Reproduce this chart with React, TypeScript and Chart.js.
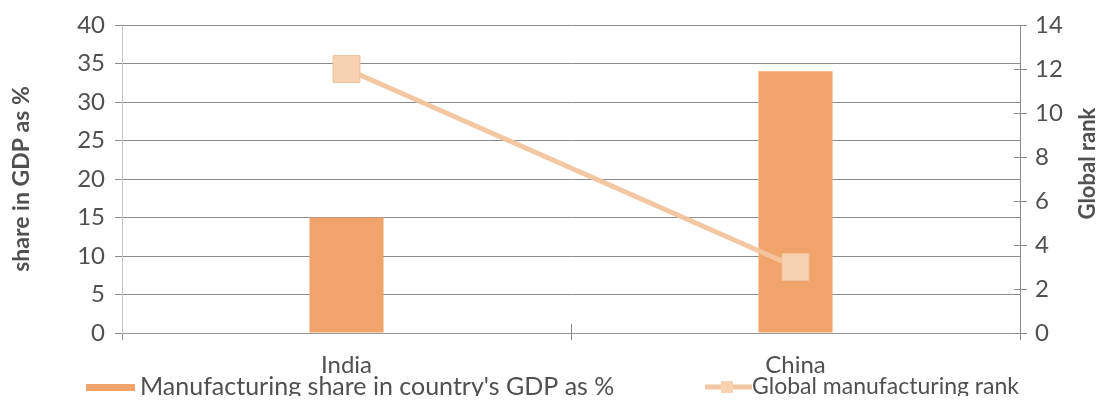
import React, { useEffect, useRef } from "react";
import { Chart, registerables } from "chart.js";

Chart.register(...registerables);

const categories = ["India", "China"];
const manufacturingShare = [15, 34];
const globalRank = [12, 3];
const shareLabel = "Manufacturing share in country's GDP as %";
const rankLabel = "Global manufacturing rank";
const leftTitle = "share in GDP as %";
const rightTitle = "Global rank";

const BAR_COLOR = "#F0A46C";
const LINE_COLOR = "rgba(243,196,158,0.95)";
const POINT_COLOR = "#F8D3B2";
const TEXT = "#505050";
const FONT = "Lato";

const decorPlugin = {
  id: "decor",
  afterDraw(chart: any) {
    const ctx = chart.ctx;
    const area = chart.chartArea;
    const y1 = chart.scales.y1;
    const x = chart.scales.x;
    ctx.save();
    ctx.strokeStyle = "#8c8c8c";
    ctx.lineWidth = 1;
    y1.ticks.forEach((t: any) => {
      const yy = Math.round(y1.getPixelForValue(t.value)) + 0.5;
      ctx.beginPath();
      ctx.moveTo(area.right - 6, yy);
      ctx.lineTo(area.right + 7, yy);
      ctx.stroke();
    });
    const midX = Math.round((x.getPixelForValue(0) + x.getPixelForValue(1)) / 2) + 0.5;
    ctx.beginPath();
    ctx.moveTo(midX, area.bottom - 9);
    ctx.lineTo(midX, area.bottom + 7);
    ctx.stroke();

    // right axis title
    ctx.save();
    ctx.translate(area.right + 68, area.top + (area.bottom - area.top) * 0.45);
    ctx.rotate(-Math.PI / 2);
    ctx.textAlign = "center";
    ctx.textBaseline = "middle";
    ctx.fillStyle = TEXT;
    ctx.font = `bold 22px ${FONT}`;
    ctx.fillText(rightTitle, 0, 0);
    ctx.restore();

    const ly = area.bottom + 54;
    ctx.textBaseline = "middle";
    ctx.textAlign = "left";
    ctx.fillStyle = BAR_COLOR;
    ctx.fillRect(78, ly - 3, 49, 7);
    ctx.fillStyle = TEXT;
    ctx.font = `25px ${FONT}`;
    ctx.fillText(shareLabel, 132, ly);

    ctx.strokeStyle = LINE_COLOR;
    ctx.lineWidth = 5;
    ctx.beginPath();
    ctx.moveTo(697, ly);
    ctx.lineTo(744, ly);
    ctx.stroke();
    ctx.fillStyle = POINT_COLOR;
    ctx.fillRect(713, ly - 6, 12, 12);
    ctx.fillStyle = TEXT;
    ctx.font = `23px ${FONT}`;
    ctx.fillText(rankLabel, 744, ly);
    ctx.restore();
  },
};

export default function App() {
  const ref = useRef<HTMLCanvasElement | null>(null);
  useEffect(() => {
    if (!ref.current) return;
    const chart = new Chart(ref.current, {
      type: "bar",
      data: {
        labels: categories,
        datasets: [
          {
            type: "line",
            label: rankLabel,
            data: globalRank,
            yAxisID: "y1",
            borderColor: LINE_COLOR,
            borderWidth: 5,
            pointStyle: "rect",
            pointRadius: 19,
            pointBackgroundColor: POINT_COLOR,
            pointBorderColor: "#F2C09A",
            pointBorderWidth: 1,
            order: 0,
          } as any,
          {
            type: "bar",
            label: shareLabel,
            data: manufacturingShare,
            yAxisID: "y",
            backgroundColor: BAR_COLOR,
            barPercentage: 0.33,
            categoryPercentage: 0.5,
            order: 1,
          },
        ],
      },
      options: {
        animation: false,
        responsive: true,
        maintainAspectRatio: false,
        layout: { autoPadding: false, padding: { top: 17, left: 0, right: 0, bottom: 0 } },
        plugins: { legend: { display: false }, tooltip: { enabled: false } },
        scales: {
          x: {
            offset: true,
            grid: { display: true, drawOnChartArea: false, drawTicks: true, tickLength: 7, color: "#8c8c8c", offset: true },
            border: { display: true, color: "#999999" },
            ticks: { color: TEXT, font: { family: FONT, size: 24 }, padding: 11 },
            afterFit: (s: any) => { s.height = 63; s.paddingLeft = 0; s.paddingRight = 0; },
          },
          y: {
            position: "left",
            min: 0,
            max: 40,
            ticks: { stepSize: 5, color: TEXT, font: { family: FONT, size: 24 }, padding: 10 },
            grid: { color: "#8c8c8c", tickLength: 7 },
            border: { display: true, color: "#c4c4c4" },
            title: { display: true, text: leftTitle, color: TEXT, font: { family: FONT, size: 23, weight: "bold" }, padding: 0 },
            afterFit: (s: any) => { s.width = 114; s.paddingTop = 0; s.paddingBottom = 0; },
          },
          y1: {
            position: "right",
            min: 0,
            max: 14,
            ticks: { stepSize: 2, color: TEXT, font: { family: FONT, size: 24 }, padding: 15 },
            grid: { drawOnChartArea: false, drawTicks: false },
            border: { display: true, color: "#8c8c8c" },
            afterFit: (s: any) => { s.width = 84; s.paddingTop = 0; s.paddingBottom = 0; },
          },
        },
      },
      plugins: [decorPlugin],
    });
    return () => chart.destroy();
  }, []);
  return (
    <div style={{ width: 1096, height: 388, position: "relative", background: "#fff" }}>
      <canvas ref={ref} />
    </div>
  );
}
